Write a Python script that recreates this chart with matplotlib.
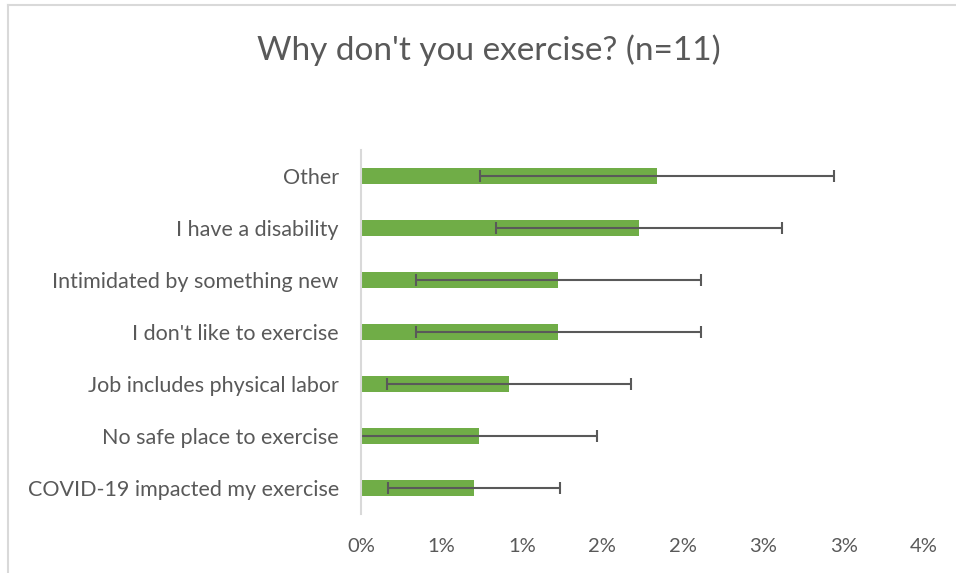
import matplotlib.pyplot as plt
from matplotlib.lines import Line2D

plt.rcParams['font.family'] = ['Lato', 'DejaVu Sans']

# data (percent), top to bottom as in the chart
reasons = ['Other', 'I have a disability', 'Intimidated by something new',
           "I don't like to exercise", 'Job includes physical labor',
           'No safe place to exercise', 'COVID-19 impacted my exercise']
values = [1.84, 1.73, 1.225, 1.225, 0.92, 0.734, 0.70]
errors = [1.10, 0.89, 0.886, 0.886, 0.76, 0.734, 0.535]
ticks = [0, 0.5, 1.0, 1.5, 2.0, 2.5, 3.0, 3.5]
tick_labels = ['0%', '1%', '1%', '2%', '2%', '3%', '3%', '4%']

text_col = '#595959'

fig = plt.figure(figsize=(9.56, 5.73), dpi=100)
ax = fig.add_axes([0.3776, 0.103, 0.589, 0.635])

y = list(range(len(reasons)))
ax.barh(y, values, height=0.31, color='#70AD47', zorder=2)
ax.errorbar(values, y, xerr=errors, fmt='none', ecolor='#595959',
            elinewidth=1.5, capsize=4, capthick=1.5, zorder=3)

ax.set_ylim(len(reasons) - 0.5, -0.5)
ax.set_xlim(0, 3.5)
ax.set_yticks(y)
ax.set_yticklabels(reasons, fontsize=15.5, color=text_col)
ax.set_xticks(ticks)
ax.set_xticklabels(tick_labels, fontsize=14.5, color=text_col)
ax.tick_params(axis='both', length=0)
ax.tick_params(axis='y', pad=16)
ax.tick_params(axis='x', pad=17)

for s in ['top', 'right', 'bottom']:
    ax.spines[s].set_visible(False)
ax.spines['left'].set_color('#D9D9D9')
ax.spines['left'].set_linewidth(1.5)
ax.spines['left'].set_zorder(5)

fig.text(0.5115, 0.913, "Why don't you exercise? (n=11)", fontsize=24,
         color=text_col, ha='center', va='center')

# chart frame
fig.add_artist(Line2D([8 / 956, 8 / 956], [0, 1 - 5 / 573], color='#D9D9D9', lw=1.5))
fig.add_artist(Line2D([8 / 956, 1], [1 - 5 / 573, 1 - 5 / 573], color='#D9D9D9', lw=1.5))

fig.savefig('out.png', dpi=100)
